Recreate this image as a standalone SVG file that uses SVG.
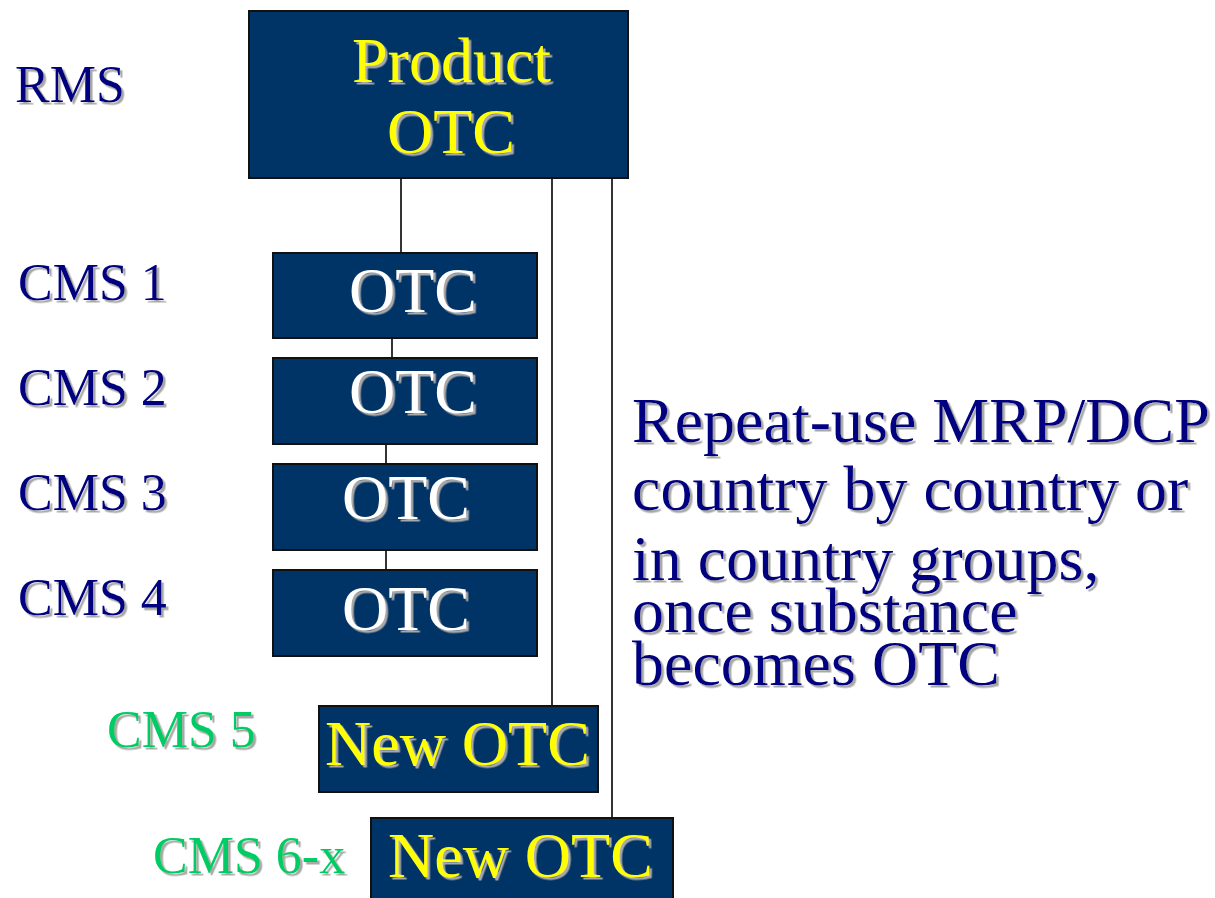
<svg xmlns="http://www.w3.org/2000/svg" width="1215" height="898" viewBox="0 0 1215 898">
  <style>
    .box { fill: #003366; stroke: #111111; stroke-width: 2; }
    .t { font-family: "Liberation Serif", "Times New Roman", serif; filter: url(#shadow); }
    .yel { fill: #ffff00; font-size: 64px; }
    .wht { fill: #ffffff; font-size: 64px; }
    .lbl { fill: #000080; font-size: 52px; }
    .grn { fill: #00cc66; font-size: 52px; }
    .note { fill: #000080; font-size: 64px; }
    .link { stroke: #000000; stroke-width: 1.6; fill: none; }
  </style>
  <defs>
    <filter id="shadow" x="-5%" y="-10%" width="115%" height="130%">
      <feDropShadow dx="2.5" dy="2.5" stdDeviation="0.6" flood-color="#a8a8a8" flood-opacity="1"/>
    </filter>
  </defs>
  <rect width="1215" height="898" fill="#ffffff"/>

  <!-- connectors -->
  <g id="connectors">
    <line class="link" x1="401" y1="178" x2="401" y2="253"/>
    <line class="link" x1="392" y1="338" x2="392" y2="358"/>
    <line class="link" x1="386" y1="444" x2="386" y2="464"/>
    <line class="link" x1="386" y1="550" x2="386" y2="570"/>
    <line class="link" x1="552" y1="178" x2="552" y2="706"/>
    <line class="link" x1="612" y1="178" x2="612" y2="818"/>
  </g>

  <!-- row labels -->
  <g id="labels">
    <text class="t lbl" x="15" y="102">RMS</text>
    <text class="t lbl" x="18" y="300">CMS 1</text>
    <text class="t lbl" x="18" y="405">CMS 2</text>
    <text class="t lbl" x="18" y="510">CMS 3</text>
    <text class="t lbl" x="18" y="615">CMS 4</text>
    <text class="t grn" x="107" y="747">CMS 5</text>
    <text class="t grn" x="153" y="873">CMS 6-x</text>
  </g>

  <g id="product">
    <rect class="box" x="249" y="11" width="379" height="167"/>
    <text class="t yel" x="352" y="82">Product</text>
    <text class="t yel" x="387" y="153">OTC</text>
  </g>

  <g id="cms1">
    <rect class="box" x="273" y="253" width="264" height="85"/>
    <text class="t wht" x="349" y="312">OTC</text>
  </g>
  <g id="cms2">
    <rect class="box" x="273" y="358" width="264" height="86"/>
    <text class="t wht" x="349" y="413">OTC</text>
  </g>
  <g id="cms3">
    <rect class="box" x="273" y="464" width="264" height="86"/>
    <text class="t wht" x="342" y="519">OTC</text>
  </g>
  <g id="cms4">
    <rect class="box" x="273" y="570" width="264" height="86"/>
    <text class="t wht" x="342" y="630">OTC</text>
  </g>
  <g id="cms5">
    <rect class="box" x="319" y="706" width="279" height="86"/>
    <text class="t yel" x="325" y="765">New OTC</text>
  </g>
  <g id="cms6x">
    <rect class="box" x="371" y="818" width="302" height="90"/>
    <text class="t yel" x="388" y="877">New OTC</text>
  </g>

  <g id="note">
    <text class="t note" x="632" y="442">Repeat-use MRP/DCP</text>
    <text class="t note" x="632" y="510">country by country or</text>
    <text class="t note" x="632" y="580">in country groups,</text>
    <text class="t note" x="632" y="632">once substance</text>
    <text class="t note" x="632" y="685">becomes OTC</text>
  </g>
</svg>
